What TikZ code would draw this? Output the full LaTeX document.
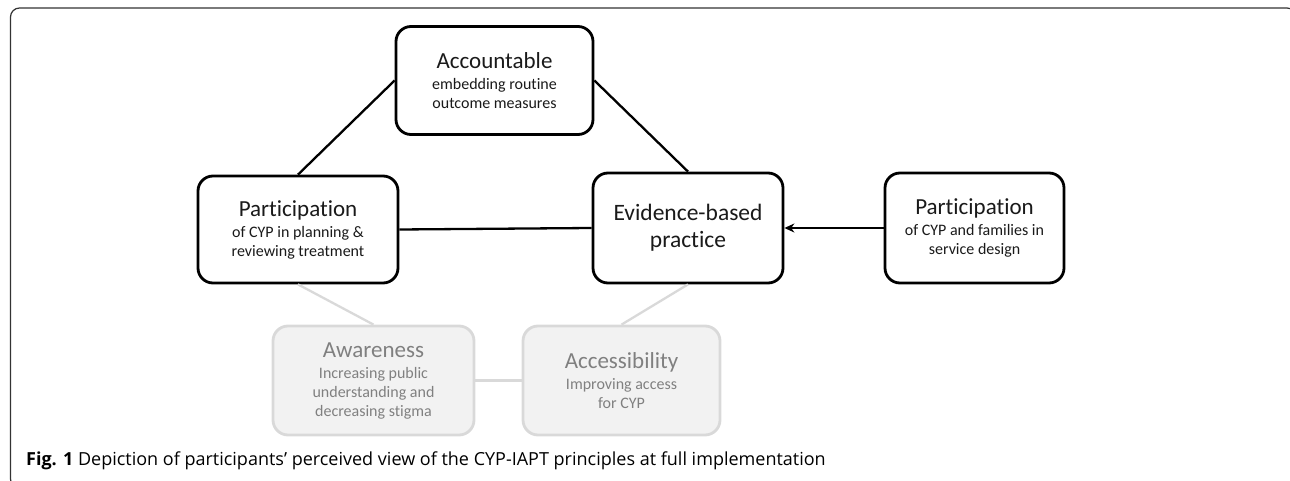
\documentclass[tikz,border=0pt]{standalone}
\usepackage{fontspec}
\setmainfont{Carlito}[Ligatures=NoCommon]
\newfontfamily\capfont{Open Sans}
\usetikzlibrary{arrows.meta}
\definecolor{gline}{HTML}{D9D9D9}
\definecolor{gfill}{HTML}{F2F2F2}
\definecolor{gtext}{HTML}{808080}
\definecolor{btext}{HTML}{1A1A1A}
\definecolor{framec}{HTML}{333333}
\newcommand{\bigt}{\fontsize{23}{26}\selectfont}
\newcommand{\smt}{\fontsize{16}{19}\selectfont}
\begin{document}
\begin{tikzpicture}[x=1pt,y=-1pt,
  box/.style={draw=black, line width=2.8pt, rounded corners=15pt, fill=white,
    align=center, inner sep=0pt, text=btext, font=\smt},
  gbox/.style={draw=gline, line width=2.8pt, rounded corners=15pt, fill=gfill,
    align=center, inner sep=0pt, text=gtext, font=\smt},
  conn/.style={line width=2.3pt, draw=black},
  gconn/.style={line width=2.3pt, draw=gline},
]
\useasboundingbox (0,0) rectangle (1290,481);
\draw[draw=framec, line width=1.2pt, rounded corners=9pt] (10.5,8) rectangle (1296,488);

\node[gbox, minimum width=201pt, minimum height=109pt] (aw) at (373.5,380.5)
  {\bigt Awareness\\[2pt] Increasing public\\ understanding and\\ decreasing stigma};
\node[gbox, minimum width=197pt, minimum height=109pt] (ac) at (621.5,380.5)
  {\bigt Accessibility\\[2pt] Improving access\\ for CYP};

\node[box, minimum width=197pt, minimum height=108pt] (acc) at (494.5,80.5)
  {\bigt Accountable\\[2pt] embedding routine\\ outcome measures};
\node[box, minimum width=200pt, minimum height=107pt] (pl) at (298,229.5)
  {\bigt Participation\\[2pt] of CYP in planning \&\\ reviewing treatment};
\node[box, minimum width=190pt, minimum height=110pt, font=\fontsize{23.5}{27}\selectfont] (ev) at (688,228)
  {Evidence-based\\ practice};
\node[box, minimum width=179pt, minimum height=110pt] (pr) at (974.5,228)
  {\bigt Participation\\[2pt] of CYP and families in\\ service design};

\draw[gconn] (pl.south) -- (aw.north);
\draw[gconn] (ev.south) -- (ac.north);
\draw[gconn] (aw.east) -- (ac.west);
\draw[conn] (acc.west) -- (pl.north);
\draw[conn] (acc.east) -- (ev.north);
\draw[conn] (pl.east) -- (ev.west);
\draw[conn, -{Stealth[length=10pt,width=9pt]}] (pr.west) -- (ev.east);

\node[anchor=base west, inner sep=0pt, font=\capfont\fontsize{18}{21}\selectfont] (cap) at (26,465)
  {\textbf{Fig. 1} Depiction of participants’ perceived view of the CYP-IAPT principles at full implementation};
\end{tikzpicture}
\end{document}
